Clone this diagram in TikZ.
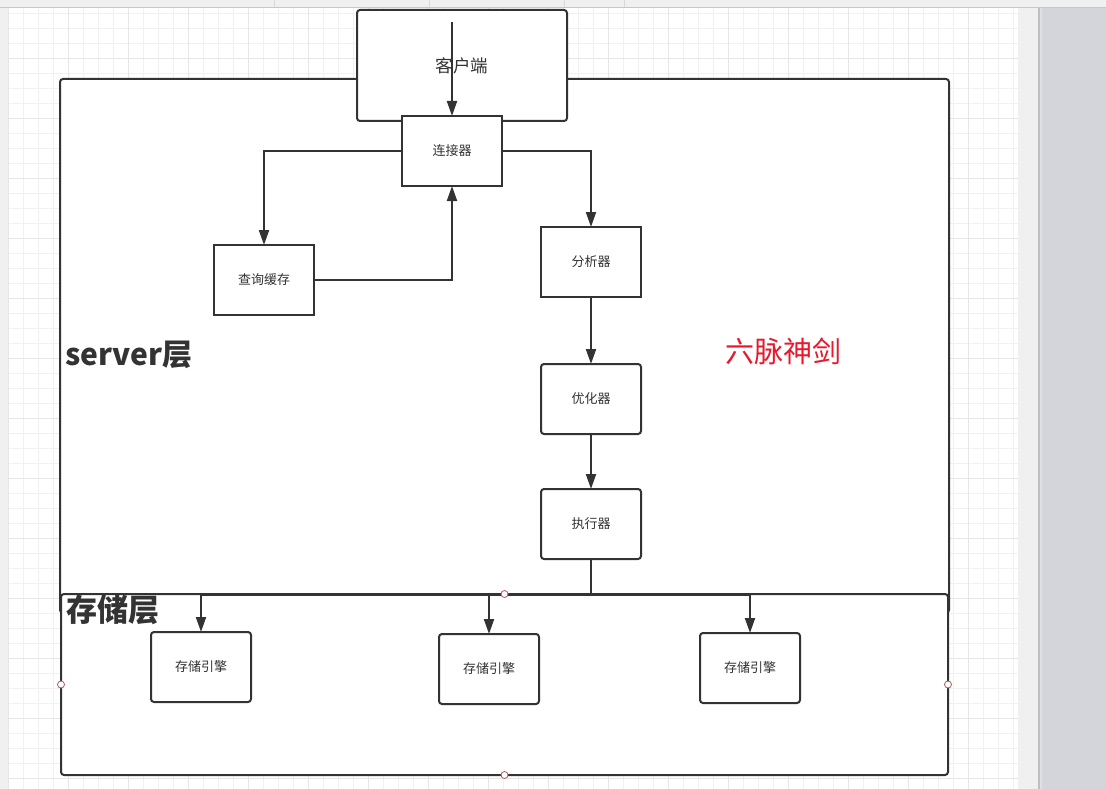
\documentclass[tikz,border=0pt]{standalone}
\usepackage{fontspec}
\setmainfont{Noto Sans CJK SC}
\usetikzlibrary{arrows.meta}
\definecolor{ink}{HTML}{333333}
\definecolor{minorgrid}{HTML}{F1F1F1}
\definecolor{majorgrid}{HTML}{E6E6E6}
\definecolor{chrome}{HTML}{F0F0F0}
\definecolor{outside}{HTML}{D4D5DA}
\definecolor{redtext}{HTML}{E8192C}
\definecolor{handlered}{HTML}{B05A5A}
\tikzset{
  box/.style={draw=ink, line width=2pt, fill=white, inner sep=0pt, outer sep=0pt,
    minimum width=100pt, minimum height=70pt, font=\fontsize{13}{13}\selectfont, text=ink},
  rbox/.style={box, rounded corners=3pt},
  arr/.style={draw=ink, line width=2pt, -{Triangle[length=15pt,width=10pt]}},
  bigbold/.style={font=\fontsize{30}{30}\selectfont\bfseries, text=ink, inner sep=0pt, anchor=base west},
  handle/.style={circle, draw=handlered, fill=white, line width=0.8pt, minimum size=7pt, inner sep=0pt}
}
\begin{document}
\begin{tikzpicture}[x=1pt,y=-1pt]
\useasboundingbox (0,0) rectangle (1106,789);
% editor background
\fill[white] (0,0) rectangle (1106,789);
\fill[chrome] (0,0) rectangle (8,789);
\fill[chrome] (1018,0) rectangle (1038,789);
\fill[outside] (1038,0) rectangle (1106,789);
\fill[black!25] (1038,0) rectangle (1040,789);
\fill[black!12] (1040,0) rectangle (1042,789);
% grid
\foreach \k in {0,...,67} {
  \pgfmathsetmacro{\xx}{8+15*\k}
  \draw[minorgrid, line width=1pt] (\xx,7) -- (\xx,789);
}
\foreach \k in {0,...,52} {
  \pgfmathsetmacro{\yy}{13.3+15*\k}
  \draw[minorgrid, line width=1pt] (8,\yy) -- (1018,\yy);
}
\foreach \k in {0,...,16} {
  \pgfmathsetmacro{\xx}{8+60*\k}
  \draw[majorgrid, line width=1pt] (\xx,7) -- (\xx,789);
}
\foreach \k in {0,...,12} {
  \pgfmathsetmacro{\yy}{58.3+60*\k}
  \draw[majorgrid, line width=1pt] (8,\yy) -- (1018,\yy);
}
% top bar
\fill[chrome] (0,0) rectangle (1106,7);
\draw[black!22, line width=1pt] (0,7.3) -- (1106,7.3);
\foreach \xx in {274,429,564,624} \draw[black!15, line width=0.8pt] (\xx,0) -- (\xx,7);

% containers
\node[rbox, minimum width=889pt, minimum height=534pt] (server) at (504.5,346) {};
\node[rbox, minimum width=887pt, minimum height=181pt] (storage) at (504.5,684.5) {};
\node[rbox, minimum width=210pt, minimum height=111pt, font=\fontsize{17.5}{17.5}\selectfont] (client) at (462,65.5) {客户端};

% boxes
\node[box] (conn) at (452,151) {连接器};
\node[box] (cache) at (264,280) {查询缓存};
\node[box] (parser) at (591,262) {分析器};
\node[rbox] (opt) at (591,399) {优化器};
\node[rbox] (exec) at (591,524) {执行器};
\node[rbox] (se1) at (201,667) {存储引擎};
\node[rbox] (se2) at (489,669) {存储引擎};
\node[rbox] (se3) at (750,668) {存储引擎};

% labels
\node[bigbold] (lserver) at (65,365) {server层};
\node[bigbold, font=\fontsize{31}{31}\selectfont\bfseries] (lstorage) at (66,621) {存储层};
\node[font=\fontsize{29}{29}\selectfont, text=redtext, inner sep=0pt] (sword) at (783.5,351) {六脉神剑};

% connectors
\coordinate (cstart) at (452,22);
\draw[arr] (cstart) -- (conn.north);
\draw[arr] (conn.west) -| (cache.north);
\draw[arr] (cache.east) -| (conn.south);
\draw[arr] (conn.east) -| (parser.north);
\draw[arr] (parser.south) -- (opt.north);
\draw[arr] (opt.south) -- (exec.north);
\coordinate (bar) at (591,595);
\draw[arr] (exec.south) -- (bar) -| (se1.north);
\draw[arr] (exec.south) -- (bar) -| (se2.north);
\draw[arr] (exec.south) -- (bar) -| (se3.north);

% selection handles of the storage container
\node[handle] (h1) at (storage.north) {};
\node[handle] (h2) at (storage.west) {};
\node[handle] (h3) at (storage.east) {};
\node[handle] (h4) at (storage.south) {};
\end{tikzpicture}
\end{document}
